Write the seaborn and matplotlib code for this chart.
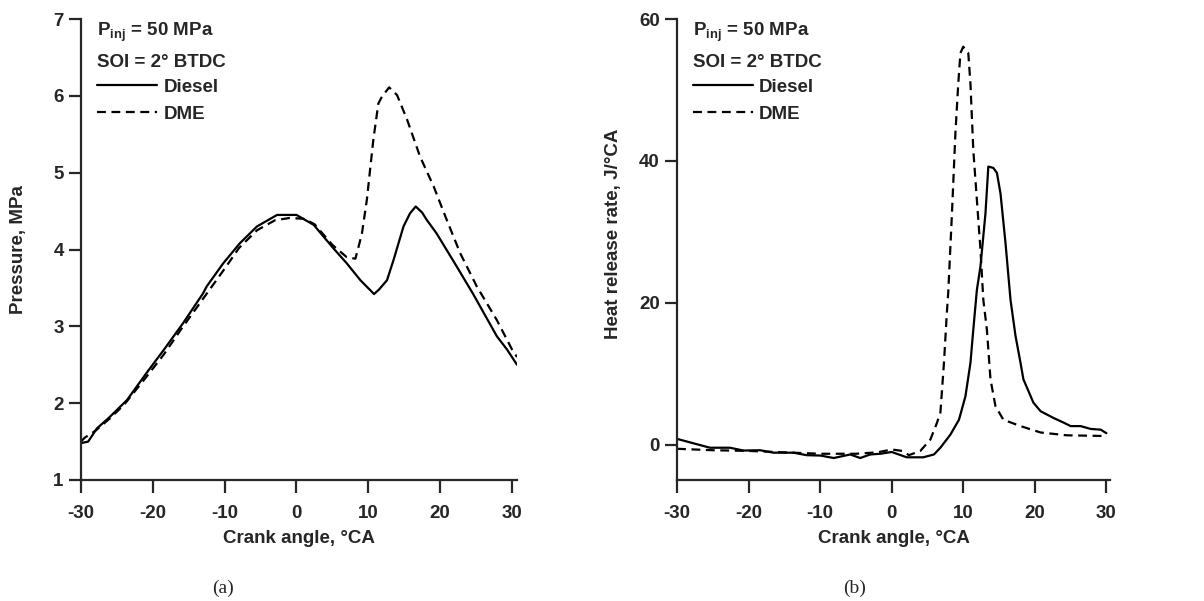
import matplotlib
matplotlib.use("Agg")
import matplotlib.pyplot as plt
import seaborn as sns

# ---- data ----
# (a) cylinder pressure, MPa
p_ca_diesel = [-30, -29, -27.8, -26, -23.6, -20.9, -18.5, -15.8, -13, -12.5, -10.2, -7.9, -5.5,
               -2.7, 0, 2.4, 5.1, 7, 8.9, 10.8, 11.5, 12.6, 13.5, 14.9, 15.8, 16.6, 17.5, 18.1,
               19.5, 22.3, 24.6, 27.9, 29.3, 30.7]
p_diesel = [1.48, 1.50, 1.67, 1.82, 2.04, 2.39, 2.69, 3.04, 3.43, 3.52, 3.82, 4.08, 4.30,
            4.45, 4.45, 4.32, 4.02, 3.82, 3.60, 3.42, 3.48, 3.60, 3.86, 4.30, 4.47, 4.56, 4.48, 4.39,
            4.21, 3.78, 3.42, 2.87, 2.70, 2.50]

p_ca_dme = [-30, -29.5, -28, -26, -24, -21, -18.5, -16, -13, -10, -8, -5.5, -3, -1, 1, 2.5, 5,
            7, 8.2, 9.1, 9.8, 10.7, 11.4, 11.9, 12.9, 14.0, 15.4, 17.2, 19.1, 20.9, 22.8, 25.1,
            27.9, 30, 30.7]
p_dme = [1.50, 1.55, 1.64, 1.80, 1.98, 2.33, 2.63, 2.97, 3.36, 3.75, 4.02, 4.25, 4.38, 4.41,
         4.40, 4.33, 4.06, 3.90, 3.88, 4.20, 4.65, 5.43, 5.90, 5.99, 6.11, 6.01, 5.69, 5.21, 4.82,
         4.39, 3.95, 3.52, 3.08, 2.70, 2.60]

# (b) heat release rate, J/°CA
h_ca_diesel = [-30, -25.4, -22.6, -20.7, -18.4, -16.5, -13.7, -11.9, -10, -8.1, -5.8, -4.4, -3,
               -1.6, 0, 2.1, 4.4, 5.9, 6.8, 8.2, 9.4, 10.3, 11, 11.4, 11.9, 12.4, 13.1, 13.5,
               14.2, 14.7, 15.2, 15.9, 16.6, 17.3, 18, 18.4, 19.8, 20.8, 22.6, 24, 25, 26.4,
               27.8, 29.2, 30]
h_diesel = [0.8, -0.45, -0.45, -0.85, -0.8, -1.15, -1.15, -1.5, -1.55, -1.9, -1.4, -1.9, -1.4,
            -1.3, -1.05, -1.8, -1.8, -1.4, -0.45, 1.4, 3.5, 6.8, 11.5, 16.2, 21.8, 25.1, 32.6, 39.2,
            39.0, 38.3, 35.4, 28.4, 20.4, 15.3, 11.5, 9.2, 5.9, 4.7, 3.75, 3.1, 2.6, 2.6,
            2.2, 2.1, 1.6]

h_ca_dme = [-30, -25, -20, -15, -10, -5, -2, 0, 1.5, 2.4, 4, 5.4, 6.3, 6.8, 7.3, 7.7, 7.9, 8.4,
            8.9, 9.3, 9.6, 10, 10.7, 11, 11.4, 11.9, 12.4, 12.8, 13.3, 13.8, 14.5, 15.6, 18,
            20.8, 24.5, 30]
h_dme = [-0.6, -0.8, -0.9, -1.1, -1.3, -1.3, -1.1, -0.7, -0.9, -1.5, -0.9, 0.7, 3.0, 4.5, 11.5,
         18.5, 21.5, 32.2, 43.9, 50.9, 55.2, 56.1, 55.2, 50.9, 41.5, 34.5, 27.5, 20.4, 16.2,
         9.2, 5.4, 3.5, 2.6, 1.7, 1.3, 1.2]

x_ticks = [-30, -20, -10, 0, 10, 20, 30]

sns.set_style("ticks")
plt.rcParams["font.family"] = ["Liberation Sans", "DejaVu Sans"]
plt.rcParams["font.weight"] = "bold"
plt.rcParams["axes.labelweight"] = "bold"
plt.rcParams["mathtext.default"] = "regular"
plt.rcParams["axes.unicode_minus"] = False

fig = plt.figure(figsize=(12.04, 6.01), dpi=100)
ax1 = fig.add_axes([81 / 1204, 121 / 601, 436 / 1204, 461 / 601])
ax2 = fig.add_axes([677 / 1204, 121 / 601, 433 / 1204, 461 / 601])

dash = (0, (4, 2.5))


def draw(ax, xd, yd, xm, ym):
    sns.lineplot(x=xd, y=yd, ax=ax, color="black", lw=1.6, sort=False,
                 estimator=None, label="Diesel")
    sns.lineplot(x=xm, y=ym, ax=ax, color="black", lw=1.6, sort=False,
                 estimator=None, linestyle=dash, label="DME")
    sns.despine(ax=ax)
    for s in ["left", "bottom"]:
        ax.spines[s].set_linewidth(1.6)
    ax.tick_params(direction="out", length=9, width=1.6, labelsize=13.5)
    ax.tick_params(axis="x", pad=9)
    ax.set_xticks(x_ticks)
    ax.set_xlabel("Crank angle, °CA", fontsize=13.5, labelpad=6)
    ax.text(0.036, 0.997, "P$_{inj}$ = 50 MPa", transform=ax.transAxes,
            fontsize=13.5, fontweight="bold", va="top", ha="left")
    ax.text(0.036, 0.924, "SOI = 2° BTDC", transform=ax.transAxes,
            fontsize=13.5, fontweight="bold", va="top", ha="left")
    ax.legend(loc="upper left", bbox_to_anchor=(0.036, 0.87), frameon=False,
              handlelength=3.2, handletextpad=0.35, borderpad=0, borderaxespad=0,
              labelspacing=0.5, prop={"size": 13.5, "weight": "bold"})


draw(ax1, p_ca_diesel, p_diesel, p_ca_dme, p_dme)
ax1.set_xlim(-30, 30.7)
ax1.set_ylim(1, 7)
ax1.set_yticks([1, 2, 3, 4, 5, 6, 7])
ax1.set_ylabel("Pressure, MPa", fontsize=13.5)
ax1.yaxis.set_label_coords(-0.124, 0.5)

draw(ax2, h_ca_diesel, h_diesel, h_ca_dme, h_dme)
ax2.set_xlim(-30, 30.5)
ax2.set_ylim(-5, 60)
ax2.set_yticks([0, 20, 40, 60])
ax2.set_ylabel("Heat release rate, J/°CA", fontsize=13.5)
ax2.yaxis.set_label_coords(-0.127, 0.534)

fig.text(223 / 1204, 1 - 588 / 601, "(a)", family="Liberation Serif", fontweight="normal",
         fontsize=14, ha="center", va="center")
fig.text(855 / 1204, 1 - 588 / 601, "(b)", family="Liberation Serif", fontweight="normal",
         fontsize=14, ha="center", va="center")

fig.savefig("out.png", dpi=100)
